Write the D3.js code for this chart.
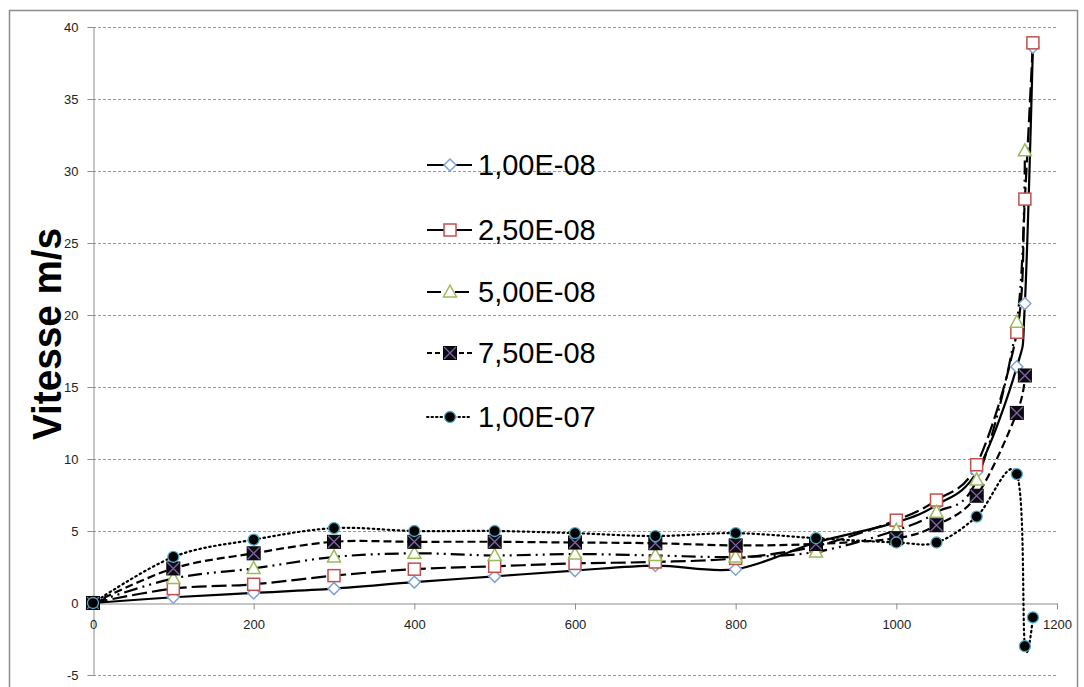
<!DOCTYPE html>
<html>
<head>
<meta charset="utf-8">
<script src="https://cdn.jsdelivr.net/npm/d3@7"></script>
<style>
html,body{margin:0;padding:0;background:#fff;}
svg{display:block;}
</style>
</head>
<body>
<svg id="chart" width="1084" height="687"></svg>
<script>
// ---- data ----
const xValues = [0,100,200,300,400,500,600,700,800,900,1000,1050,1100,1150,1160,1170];
const seriesNames = ["1,00E-08","2,50E-08","5,00E-08","7,50E-08","1,00E-07"];
const s1 = [0,0.4,0.7,1.0,1.45,1.85,2.25,2.6,2.35,4.2,5.6,6.8,9.1,16.4,20.8,38.6];
const s2 = [0,1.0,1.3,1.9,2.35,2.55,2.75,2.85,3.1,3.95,5.75,7.15,9.6,18.8,28.05,38.9];
const s3 = [0,1.7,2.4,3.2,3.45,3.3,3.4,3.3,3.2,3.55,5.05,6.3,8.55,19.5,31.4];
const s4 = [0,2.4,3.45,4.25,4.25,4.25,4.2,4.15,4.0,4.1,4.5,5.4,7.45,13.2,15.8];
const s5 = [0,3.2,4.4,5.2,5.0,5.0,4.85,4.65,4.85,4.5,4.2,4.2,6.0,8.95,-3.0,-1.0];
const xTicks = [0,200,400,600,800,1000,1200];
const yTicks = [-5,0,5,10,15,20,25,30,35,40];
const yTitle = "Vitesse m/s";

// ---- styles ----
const styles = [
  {dash:null, marker:"diamond", stroke:"#7ea3d8", fill:"#fff"},
  {dash:"15,5", marker:"square", stroke:"#c0504d", fill:"#fff"},
  {dash:"14,5,2,5,2,5", marker:"triangle", stroke:"#9bbb59", fill:"#fff"},
  {dash:"8,4", marker:"xsquare", stroke:"#8064a2", fill:"#0d0b14"},
  {dash:"1.5,3.5", marker:"circle", stroke:"#4bacc6", fill:"#000"}
];
const allSeries = [s1,s2,s3,s4,s5];

const svg = d3.select("#chart");
const x = d3.scaleLinear().domain([0,1200]).range([93,1057]);
const y = d3.scaleLinear().domain([-5,40]).range([675,27]);
const fmt = d => String(d);

// outer border
svg.append("rect").attr("x",9.5).attr("y",10.5).attr("width",1068).attr("height",700)
  .attr("fill","none").attr("stroke","#8c8c8c").attr("stroke-width",1.5);

// gridlines
svg.append("g").selectAll("line").data(yTicks.filter(d=>d!==0)).join("line")
  .attr("x1",x(0)).attr("x2",x(1200))
  .attr("y1",d=>Math.round(y(d))+0.5).attr("y2",d=>Math.round(y(d))+0.5)
  .attr("stroke","#9a9a9a").attr("stroke-width",1).attr("stroke-dasharray","3,2");

// y axis
const yAxis = svg.append("g").attr("transform",`translate(${x(0)+0.5},0)`)
  .call(d3.axisLeft(y).tickValues(yTicks).tickFormat(fmt).tickSize(6).tickPadding(9).tickSizeOuter(0));
yAxis.select(".domain").attr("stroke","#8c8c8c");
yAxis.selectAll(".tick line").attr("stroke","#8c8c8c");
yAxis.selectAll(".tick text").attr("font-family","Liberation Sans, Arial, sans-serif")
  .attr("font-size",13).attr("fill","#222");

// x axis at y=0
const xAxis = svg.append("g").attr("transform",`translate(0,${Math.round(y(0))+0.5})`)
  .call(d3.axisBottom(x).tickValues(xTicks).tickFormat(fmt).tickSize(6).tickPadding(10).tickSizeOuter(0));
xAxis.select(".domain").attr("stroke","#8c8c8c");
xAxis.selectAll(".tick line").attr("stroke","#8c8c8c");
xAxis.selectAll(".tick text").attr("font-family","Liberation Sans, Arial, sans-serif")
  .attr("font-size",13).attr("fill","#222");

// y title
svg.append("text").attr("transform","translate(61,334) rotate(-90)")
  .attr("text-anchor","middle").attr("font-family","Liberation Sans, Arial, sans-serif")
  .attr("font-weight","bold").attr("font-size",40).attr("fill","#000")
  .attr("textLength",212).attr("lengthAdjust","spacingAndGlyphs").text(yTitle);

// lines
const line = d3.line().x(d=>x(d[0])).y(d=>y(d[1])).curve(d3.curveCatmullRom.alpha(0));
const linesG = svg.append("g");
allSeries.forEach((s,i)=>{
  const pts = s.map((v,j)=>[xValues[j],v]);
  linesG.append("path").attr("d",line(pts)).attr("fill","none")
    .attr("stroke","#000").attr("stroke-width",2.2)
    .attr("stroke-linecap", i===4 ? "round":"butt")
    .attr("stroke-dasharray",styles[i].dash);
});

function drawMarker(g, type, cx, cy, st){
  if(type==="diamond"){
    g.append("path").attr("d",`M${cx},${cy-6}L${cx+6},${cy}L${cx},${cy+6}L${cx-6},${cy}Z`)
      .attr("fill",st.fill).attr("stroke",st.stroke).attr("stroke-width",1.5);
  } else if(type==="square"){
    g.append("rect").attr("x",cx-6).attr("y",cy-6).attr("width",12).attr("height",12)
      .attr("fill",st.fill).attr("stroke",st.stroke).attr("stroke-width",1.5);
  } else if(type==="triangle"){
    g.append("path").attr("d",`M${cx},${cy-7}L${cx+6.5},${cy+5}L${cx-6.5},${cy+5}Z`)
      .attr("fill",st.fill).attr("stroke",st.stroke).attr("stroke-width",1.5);
  } else if(type==="xsquare"){
    g.append("rect").attr("x",cx-6.5).attr("y",cy-6.5).attr("width",13).attr("height",13)
      .attr("fill",st.fill).attr("stroke","#000").attr("stroke-width",1);
    g.append("path").attr("d",`M${cx-6},${cy-6}L${cx+6},${cy+6}M${cx+6},${cy-6}L${cx-6},${cy+6}`)
      .attr("stroke",st.stroke).attr("stroke-width",1.3);
  } else if(type==="circle"){
    g.append("circle").attr("cx",cx).attr("cy",cy).attr("r",5.5)
      .attr("fill",st.fill).attr("stroke",st.stroke).attr("stroke-width",1.3);
  }
}

// markers
const markG = svg.append("g");
allSeries.forEach((s,i)=>{
  s.forEach((v,j)=>drawMarker(markG, styles[i].marker, x(xValues[j]), y(v), styles[i]));
});

// legend
const legendY = [165,230,292,353,417];
const legG = svg.append("g");
seriesNames.forEach((name,i)=>{
  const ly = legendY[i];
  legG.append("line").attr("x1",427).attr("x2",472).attr("y1",ly).attr("y2",ly)
    .attr("stroke","#000").attr("stroke-width",2)
    .attr("stroke-dasharray", i===0||i===1 ? null : (i===2 ? "14,6,2,6" : (i===3 ? "5,3" : "1.5,3")))
    .attr("stroke-linecap", i===4 ? "round":"butt");
  drawMarker(legG, styles[i].marker, 450, ly, styles[i]);
  legG.append("text").attr("x",478).attr("y",ly).attr("dy","0.36em")
    .attr("font-family","Liberation Sans, Arial, sans-serif").attr("font-size",29)
    .attr("fill","#000").text(name);
});
</script>
</body>
</html>
